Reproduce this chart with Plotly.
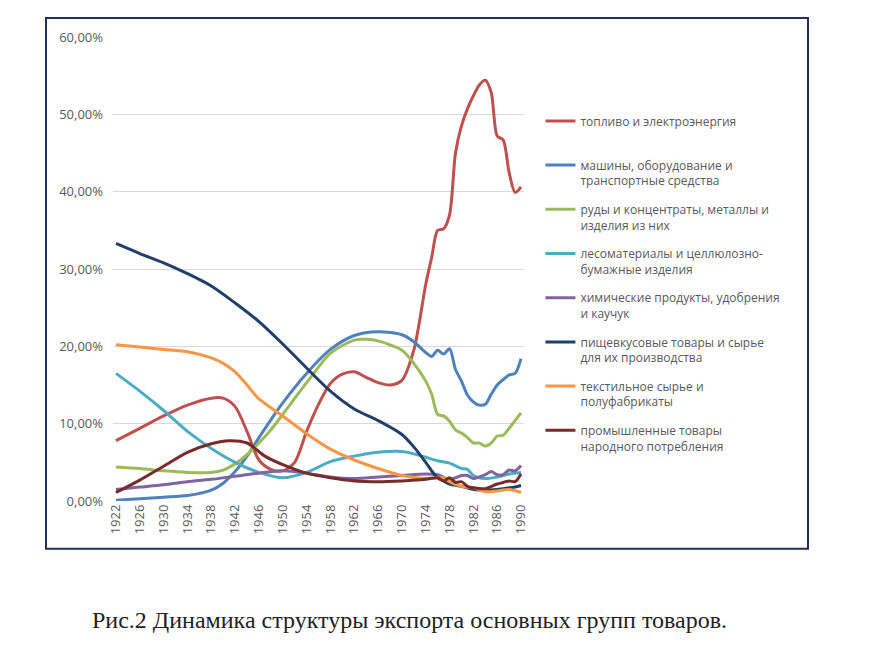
import plotly.graph_objects as go

# Export structure by commodity group, % of total
fuel_years = [1922, 1926, 1930, 1934, 1938, 1940, 1942, 1944, 1946, 1948, 1950, 1952, 1954, 1956, 1958,
              1960, 1962, 1964, 1966, 1968, 1970, 1972, 1974, 1975, 1976, 1977, 1978, 1979, 1980, 1981,
              1982, 1983, 1984, 1985, 1986, 1987, 1988, 1989, 1990]
fuel = [7.8, 9.4, 11.0, 12.4, 13.3, 13.3, 12.2, 9.0, 5.3, 4.1, 3.9, 5.0, 9.0, 12.5, 15.2,
        16.4, 16.7, 16.0, 15.3, 15.0, 15.6, 19.5, 28.0, 31.5, 35.0, 35.2, 37.0, 45.0, 48.5, 50.7,
        52.4, 53.8, 54.4, 52.8, 47.2, 46.7, 42.5, 39.9, 40.6]

mach_years = [1922, 1926, 1930, 1934, 1938, 1940, 1942, 1944, 1946, 1948, 1950, 1954, 1958, 1962, 1966,
              1970, 1972, 1974, 1975, 1976, 1977, 1978, 1979, 1980, 1981, 1982, 1983, 1984, 1985, 1986,
              1987, 1988, 1989, 1990]
machines = [0.1, 0.3, 0.5, 0.7, 1.4, 2.3, 3.8, 5.8, 8.2, 10.5, 12.7, 16.5, 19.6, 21.4, 21.9,
            21.5, 20.6, 19.2, 18.7, 19.5, 19.0, 19.7, 17.0, 15.5, 13.7, 12.8, 12.4, 12.5, 13.8, 15.0,
            15.7, 16.3, 16.5, 18.4]

ore_years = [1922, 1926, 1930, 1934, 1938, 1940, 1942, 1944, 1946, 1948, 1950, 1954, 1958, 1962, 1964,
             1966, 1970, 1972, 1974, 1975, 1976, 1977, 1978, 1979, 1980, 1981, 1982, 1983, 1984, 1985,
             1986, 1987, 1988, 1989, 1990]
ores = [4.4, 4.2, 3.9, 3.7, 3.7, 4.0, 4.8, 6.0, 7.5, 9.2, 11.2, 15.3, 19.1, 20.8, 20.9,
        20.7, 19.5, 17.8, 15.5, 13.8, 11.2, 11.0, 10.3, 9.2, 8.8, 8.2, 7.5, 7.5, 7.1, 7.5,
        8.4, 8.5, 9.4, 10.4, 11.4]

timber_years = [1922, 1926, 1930, 1934, 1938, 1942, 1946, 1950, 1954, 1958, 1962, 1966, 1970, 1973,
                1976, 1978, 1980, 1981, 1982, 1984, 1986, 1988, 1990]
timber = [16.5, 14.2, 11.7, 9.0, 6.8, 5.0, 3.7, 3.0, 3.7, 5.1, 5.8, 6.3, 6.4, 5.9,
          5.2, 4.9, 4.2, 4.1, 3.3, 2.9, 3.1, 3.5, 3.7]

chem_years = [1922, 1926, 1930, 1934, 1938, 1942, 1946, 1950, 1954, 1958, 1962, 1966, 1970, 1974,
              1976, 1978, 1979, 1980, 1981, 1982, 1983, 1984, 1985, 1986, 1987, 1988, 1989, 1990]
chemicals = [1.5, 1.8, 2.1, 2.5, 2.8, 3.2, 3.6, 3.9, 3.6, 3.1, 2.9, 3.1, 3.3, 3.5,
             3.4, 2.8, 3.0, 3.3, 3.3, 2.9, 3.1, 3.4, 3.8, 3.4, 3.4, 4.0, 3.9, 4.6]

food_years = [1922, 1926, 1930, 1934, 1938, 1942, 1946, 1950, 1954, 1958, 1962, 1966, 1970, 1972,
              1974, 1975, 1976, 1977, 1978, 1980, 1982, 1984, 1986, 1988, 1989, 1990]
food = [33.3, 32.0, 30.8, 29.4, 27.8, 25.6, 23.2, 20.3, 17.2, 14.2, 11.9, 10.4, 8.6, 7.0,
        5.0, 3.9, 3.0, 2.6, 2.2, 1.9, 1.5, 1.4, 1.5, 1.7, 1.8, 2.0]

textile_years = [1922, 1926, 1930, 1934, 1938, 1940, 1942, 1944, 1946, 1950, 1954, 1958, 1962, 1966,
                 1970, 1974, 1976, 1977, 1978, 1980, 1982, 1984, 1986, 1988, 1990]
textile = [20.2, 19.9, 19.6, 19.3, 18.5, 17.8, 16.7, 15.0, 13.2, 11.0, 8.7, 6.7, 5.3, 4.2,
           3.3, 2.9, 3.0, 3.0, 2.5, 1.9, 1.7, 1.2, 1.3, 1.5, 1.1]

cons_years = [1922, 1926, 1930, 1934, 1938, 1941, 1944, 1947, 1950, 1954, 1958, 1962, 1966, 1970,
              1974, 1976, 1977, 1978, 1979, 1980, 1981, 1982, 1984, 1986, 1987, 1988, 1989, 1990]
consumer = [1.1, 2.7, 4.5, 6.3, 7.4, 7.8, 7.5, 5.8, 4.7, 3.6, 3.0, 2.6, 2.5, 2.6,
            2.8, 3.0, 2.6, 3.0, 2.4, 2.5, 1.9, 1.7, 1.6, 2.2, 2.4, 2.6, 2.5, 3.5]

y_ticks = [0, 10, 20, 30, 40, 50, 60]
y_labels = ["0,00%", "10,00%", "20,00%", "30,00%", "40,00%", "50,00%", "60,00%"]

series = [
    ("топливо и электроэнергия<br>&nbsp;", fuel_years, fuel, "#C0504D"),
    ("машины, оборудование и<br>транспортные средства", mach_years, machines, "#4F81BD"),
    ("руды и концентраты, металлы и<br>изделия из них", ore_years, ores, "#9BBB59"),
    ("лесоматериалы и целлюлозно-<br>бумажные изделия", timber_years, timber, "#4BACC6"),
    ("химические продукты, удобрения<br>и каучук", chem_years, chemicals, "#8064A2"),
    ("пищевкусовые товары и сырье<br>для их производства", food_years, food, "#203F6B"),
    ("текстильное сырье и<br>полуфабрикаты", textile_years, textile, "#F79646"),
    ("промышленные товары<br>народного потребления", cons_years, consumer, "#772C2A"),
]

fig = go.Figure()
for name, xs, ys, color in series:
    fig.add_trace(go.Scatter(x=xs, y=ys, name=name, legendgroup=name, mode="lines",
                             line=dict(color=color, width=3, shape="spline", smoothing=0.8)))

# page body adds 8px, so the figure is a bit smaller than the window
fig.update_layout(
    width=864, height=639,
    margin=dict(l=105, r=348, t=29, b=146),
    paper_bgcolor="white", plot_bgcolor="white",
    font=dict(family="Open Sans", size=12, color="#595959"),
    showlegend=True,
    legend=dict(x=1.04, y=0.85, xanchor="left", yanchor="top", valign="top",
                font=dict(size=12, color="#595959"), tracegroupgap=10, itemwidth=30),
    xaxis=dict(range=[1921.5, 1990.5], tick0=1922, dtick=4, tickangle=-90,
               tickfont=dict(size=13), showgrid=False, zeroline=False, showline=False, ticks=""),
    yaxis=dict(range=[0, 60], tickvals=y_ticks, ticktext=y_labels, tickfont=dict(size=13),
               ticklabelstandoff=9,
               showgrid=True, gridcolor="#D9D9D9", gridwidth=1, zeroline=False, ticks=""),
    shapes=[dict(type="rect", xref="paper", yref="paper",
                 x0=-0.163, x1=1.691, y0=-0.103, y1=1.041,
                 line=dict(color="#1F2F5A", width=2), fillcolor="rgba(0,0,0,0)")],
    annotations=[dict(text="Рис.2 Динамика структуры экспорта основных групп товаров.",
                      xref="paper", yref="paper", x=-0.056, y=-0.256,
                      xanchor="left", yanchor="middle", showarrow=False,
                      font=dict(family="Liberation Serif", size=24, color="#222222"))],
)

fig.write_html("out.html")
